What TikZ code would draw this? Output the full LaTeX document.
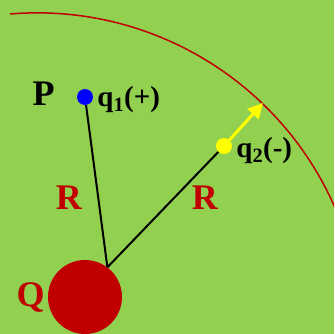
\documentclass[tikz,border=0pt]{standalone}
\usepackage{fontspec}
\setmainfont{Liberation Serif}
\usetikzlibrary{arrows.meta, positioning}
\definecolor{fieldbg}{HTML}{92D050}
\definecolor{charge}{HTML}{C00000}
\definecolor{probe}{HTML}{0000FF}
\definecolor{mover}{HTML}{FFFF00}

\begin{document}
\begin{tikzpicture}[
    x=1pt, y=-1pt,
    dot/.style={circle, inner sep=0pt, minimum size=16pt},
    qlabel/.style={inner sep=0pt, font=\fontsize{29}{29}\selectfont\bfseries},
    biglabel/.style={inner sep=0pt, font=\fontsize{36}{36}\selectfont\bfseries},
    rline/.style={line width=2pt, draw=black},
    motion/.style={-{Triangle[length=15pt, width=15pt]}, line width=3pt, draw=mover}
]
    \useasboundingbox (0,0) rectangle (334,334);
    \clip (0,0) rectangle (334,334);
    \fill[fieldbg] (0,0) rectangle (334,334);

    % equipotential arc
    \draw[charge, line width=1.5pt] (10,14) arc[start angle=-94.8, end angle=-20, radius=325];

    \node[circle, fill=charge, inner sep=0pt, minimum size=74pt] (Q) at (85,297) {};
    \node[dot, fill=probe] (q1) at (85,97) {};
    \node[dot, fill=mover] (q2) at (224,146) {};
    \coordinate (tip) at (263,103);

    \node[biglabel, left=22pt of q1, yshift=3.5pt] (P) {P};
    \node[qlabel, right=4pt of q1, yshift=-3pt] (q1lab) {q\textsubscript{1}(+)};
    \node[qlabel, right=4pt of q2, yshift=-4.5pt] (q2lab) {q\textsubscript{2}(-)};
    \node[biglabel, text=charge, left=3pt of Q] (Qlab) {Q};

    \draw[rline] (q1) -- (Q.53) node[biglabel, text=charge, pos=0.573, left=15.5pt] (R1) {R};
    \draw[rline] (q2) -- (Q.53) node[biglabel, text=charge, pos=0.40, right=17pt] (R2) {R};
    \draw[motion] (q2) -- (tip);
\end{tikzpicture}
\end{document}
